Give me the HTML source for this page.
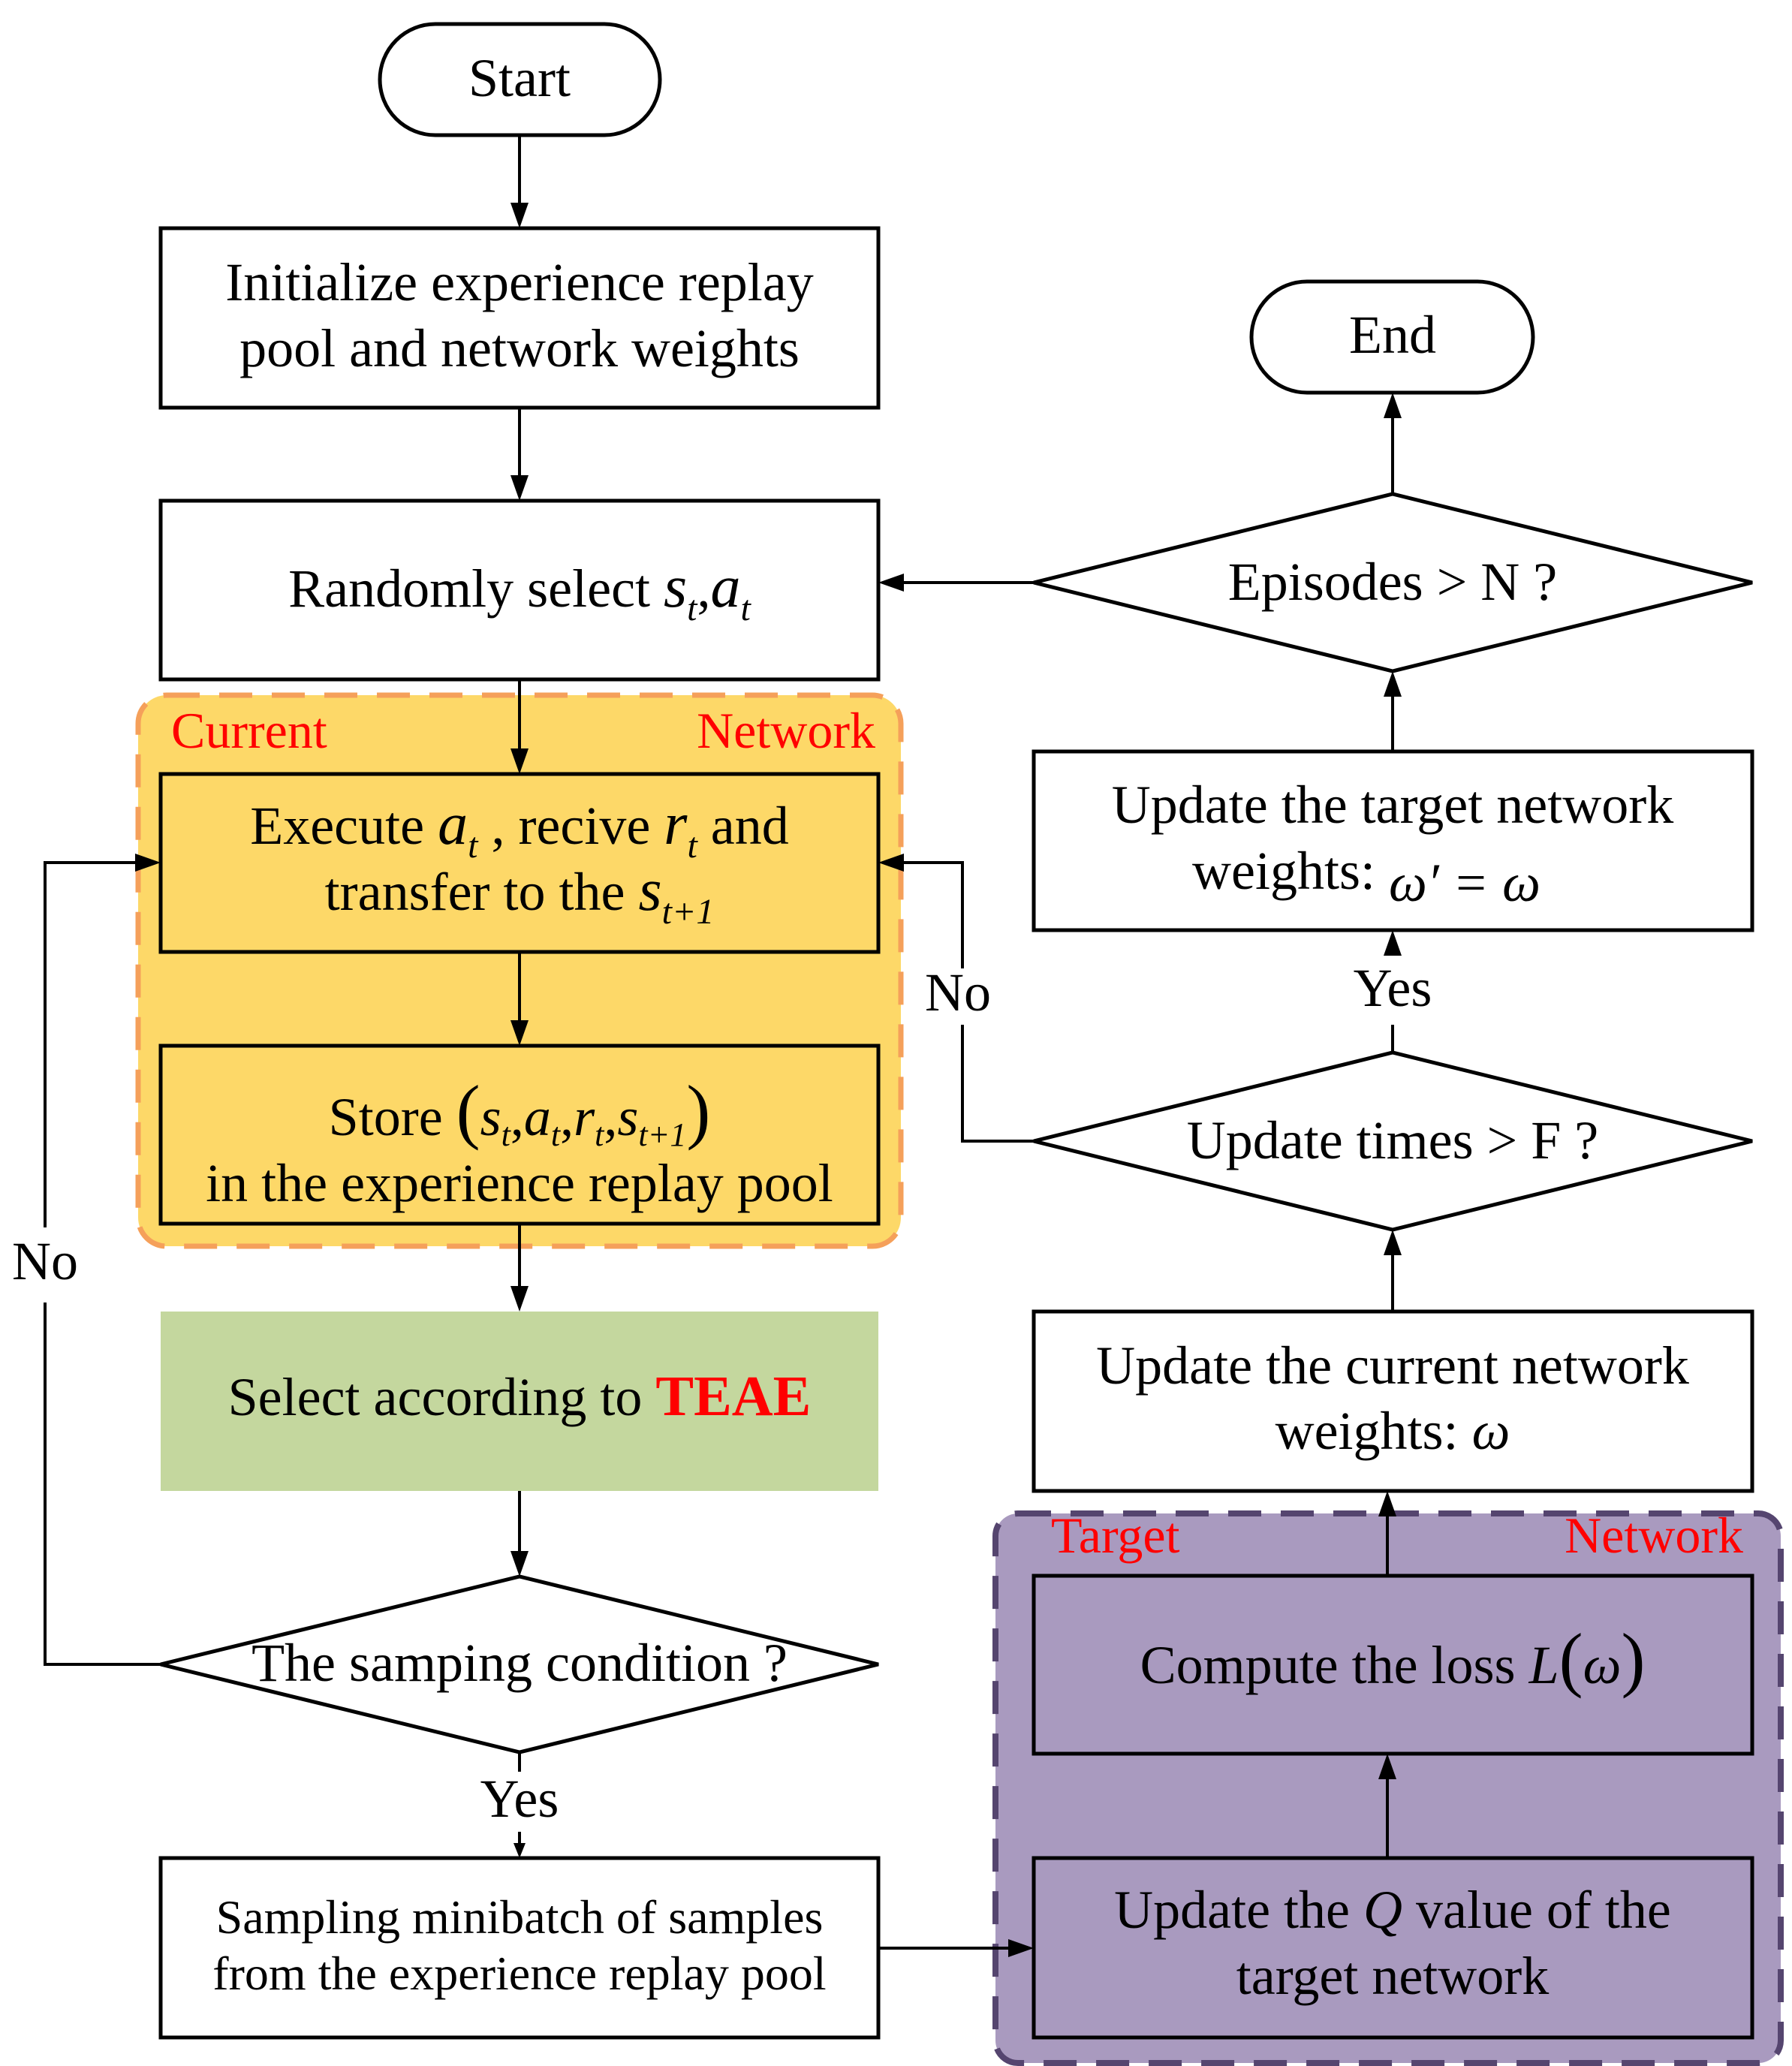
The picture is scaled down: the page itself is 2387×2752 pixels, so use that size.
<!DOCTYPE html>
<html><head><meta charset="utf-8"><style>
html,body{margin:0;padding:0;background:#fff}
svg{display:block}
text{font-family:"Liberation Serif",serif;font-size:72px;fill:#000}
.i{font-style:italic}
.r{fill:#ff0000;font-size:68px}
.s{font-size:64px}
</style></head><body>
<svg width="2387" height="2752" viewBox="0 0 2387 2752" xmlns="http://www.w3.org/2000/svg">
<rect x="184" y="926" width="1016" height="734" rx="38" fill="#FDD868" stroke="#F5A05A" stroke-width="7" stroke-dasharray="44,26"/>
<rect x="1326" y="2016" width="1046" height="732" rx="30" fill="#A99ABF" stroke="#55456F" stroke-width="8" stroke-dasharray="44,26"/>
<g fill="none" stroke="#000" stroke-width="5">
<rect x="506" y="32" width="373" height="148" rx="74" fill="#fff"/>
<rect x="214" y="304" width="956" height="239" fill="#fff"/>
<rect x="214" y="667" width="956" height="238" fill="#fff"/>
<rect x="214" y="1031" width="956" height="237"/>
<rect x="214" y="1393" width="956" height="237"/>
<polygon points="214,2217 692,2100 1170,2217 692,2334" fill="#fff"/>
<rect x="214" y="2475" width="956" height="239" fill="#fff"/>
<rect x="1667" y="375" width="375" height="148" rx="74" fill="#fff"/>
<polygon points="1377,776 1855,658 2334,776 1855,894" fill="#fff"/>
<rect x="1377" y="1001" width="957" height="238" fill="#fff"/>
<polygon points="1377,1520 1855,1402 2334,1520 1855,1638" fill="#fff"/>
<rect x="1377" y="1747" width="957" height="239" fill="#fff"/>
<rect x="1377" y="2099" width="957" height="237"/>
<rect x="1377" y="2475" width="957" height="239"/>
</g>
<rect x="214" y="1747" width="956" height="239" fill="#C4D79E"/>
<g stroke="#000" stroke-width="4" fill="none">
<line x1="692" y1="180" x2="692" y2="280"/>
<line x1="692" y1="543" x2="692" y2="643"/>
<line x1="692" y1="905" x2="692" y2="1007"/>
<line x1="692" y1="1268" x2="692" y2="1369"/>
<line x1="692" y1="1630" x2="692" y2="1723"/>
<line x1="692" y1="1986" x2="692" y2="2076"/>
<line x1="692" y1="2334" x2="692" y2="2360"/>
<line x1="692" y1="2440" x2="692" y2="2455"/>
<polyline points="214,2217 60,2217 60,1735"/>
<polyline points="60,1635 60,1149 190,1149"/>
<line x1="1170" y1="2595" x2="1353" y2="2595"/>
<line x1="1848" y1="2475" x2="1848" y2="2360"/>
<line x1="1848" y1="2099" x2="1848" y2="2010"/>
<line x1="1855" y1="1747" x2="1855" y2="1662"/>
<polyline points="1377,1520 1282,1520 1282,1365"/>
<polyline points="1282,1290 1282,1149 1194,1149"/>
<line x1="1855" y1="1402" x2="1855" y2="1365"/>
<line x1="1855" y1="1001" x2="1855" y2="918"/>
<line x1="1377" y1="776" x2="1194" y2="776"/>
<line x1="1855" y1="658" x2="1855" y2="547"/>
</g>
<g fill="#000">
<polygon points="680,270 704,270 692,304"/>
<polygon points="680,633 704,633 692,667"/>
<polygon points="680,997 704,997 692,1031"/>
<polygon points="680,1359 704,1359 692,1393"/>
<polygon points="680,1713 704,1713 692,1747"/>
<polygon points="680,2066 704,2066 692,2100"/>
<polygon points="684,2455 700,2455 692,2475"/>
<polygon points="180,1137 180,1161 214,1149"/>
<polygon points="1343,2583 1343,2607 1377,2595"/>
<polygon points="1836,2370 1860,2370 1848,2336"/>
<polygon points="1836,2020 1860,2020 1848,1986"/>
<polygon points="1843,1672 1867,1672 1855,1638"/>
<polygon points="1204,1137 1204,1161 1170,1149"/>
<polygon points="1843,1273 1867,1273 1855,1239"/>
<polygon points="1843,928 1867,928 1855,894"/>
<polygon points="1204,764 1204,788 1170,776"/>
<polygon points="1843,557 1867,557 1855,523"/>
</g>
<g text-anchor="middle">
<text x="692" y="128">Start</text>
<text x="692" y="400">Initialize experience replay</text>
<text x="692" y="488">pool and network weights</text>
<text x="692" y="808">Randomly select <tspan class="i" font-size="80">s</tspan><tspan class="i" font-size="48" dy="18">t</tspan><tspan dy="-18">,</tspan><tspan class="i" font-size="80">a</tspan><tspan class="i" font-size="48" dy="18">t</tspan></text>
<text x="692" y="1124">Execute <tspan class="i" font-size="80">a</tspan><tspan class="i" font-size="48" dy="18">t</tspan><tspan dy="-18"> , recive </tspan><tspan class="i" font-size="80">r</tspan><tspan class="i" font-size="48" dy="18">t</tspan><tspan dy="-18"> and</tspan></text>
<text x="692" y="1212">transfer to the <tspan class="i" font-size="80">s</tspan><tspan class="i" font-size="48" dy="18">t+1</tspan></text>
<text x="692" y="1512">Store <tspan font-size="96">(</tspan><tspan class="i">s</tspan><tspan class="i" font-size="44" dy="14">t</tspan><tspan dy="-14">,</tspan><tspan class="i">a</tspan><tspan class="i" font-size="44" dy="14">t</tspan><tspan dy="-14">,</tspan><tspan class="i">r</tspan><tspan class="i" font-size="44" dy="14">t</tspan><tspan dy="-14">,</tspan><tspan class="i">s</tspan><tspan class="i" font-size="44" dy="14">t+1</tspan><tspan font-size="96" dy="-14">)</tspan></text>
<text x="692" y="1600">in the experience replay pool</text>
<text x="692" y="1885">Select according to <tspan fill="#ff0000" font-weight="bold" font-size="76">TEAE</tspan></text>
<text x="692" y="2239">The samping condition ?</text>
<text x="692" y="2420">Yes</text>
<text x="692" y="2575" class="s">Sampling minibatch  of samples</text>
<text x="692" y="2650" class="s">from the experience replay pool</text>
<text x="1855" y="470">End</text>
<text x="1855" y="799">Episodes &gt; N ?</text>
<text x="1855" y="1096">Update the target network</text>
<text x="1820" y="1184">weights: <tspan class="i" dy="16">ω′ = ω</tspan></text>
<text x="1855" y="1340">Yes</text>
<text x="1855" y="1543">Update times &gt; F ?</text>
<text x="1855" y="1843">Update the current network</text>
<text x="1855" y="1930">weights: <tspan class="i">ω</tspan></text>
<text x="1855" y="2242">Compute the loss <tspan class="i">L</tspan><tspan font-size="96">(</tspan><tspan class="i">ω</tspan><tspan font-size="96">)</tspan></text>
<text x="1855" y="2568">Update the <tspan class="i">Q</tspan> value of the</text>
<text x="1855" y="2656">target network</text>
<text x="60" y="1704">No</text>
<text x="1276" y="1346">No</text>
</g>
<text x="228" y="996" class="r">Current</text>
<text x="1166" y="996" class="r" text-anchor="end">Network</text>
<text x="1400" y="2068" class="r">Target</text>
<text x="2322" y="2068" class="r" text-anchor="end">Network</text>
</svg>
</body></html>
